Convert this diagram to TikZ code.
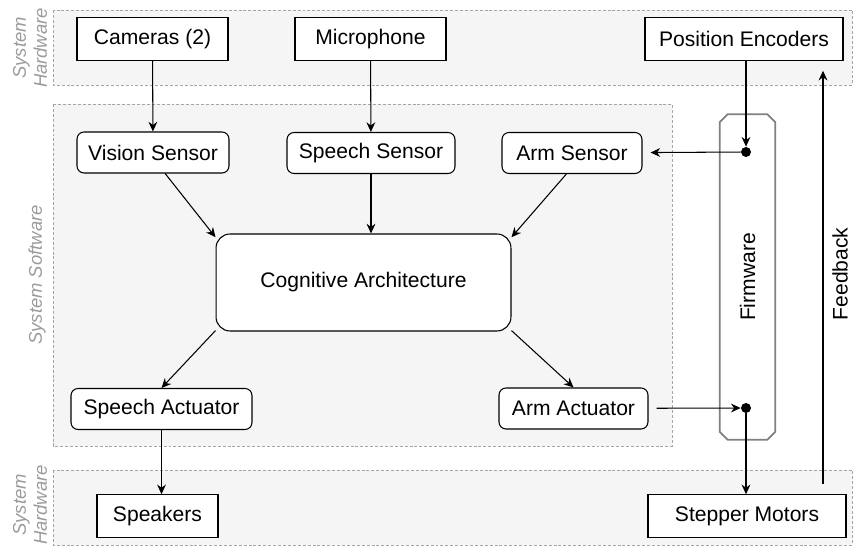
\documentclass[tikz,border=0pt]{standalone}
\usepackage{fontspec}
\setmainfont{Liberation Sans}
\usepackage{tikz}
\usetikzlibrary{positioning, arrows.meta, calc}
\definecolor{bandbg}{RGB}{245,245,245}
\definecolor{bandframe}{RGB}{165,165,165}
\definecolor{zonegray}{RGB}{155,155,155}
\definecolor{fwframe}{RGB}{128,128,128}

\begin{document}
\begin{tikzpicture}[
        x=0.02cm, y=-0.02cm,
        font=\fontsize{12}{14}\selectfont,
        band/.style={draw=bandframe, fill=bandbg, dash pattern=on 1.7pt off 1.1pt, line width=0.5pt},
        hwbox/.style={draw, rectangle, fill=white, minimum height=0.85cm, inner sep=0pt, line width=0.6pt},
        swbox/.style={hwbox, rounded corners=4pt, minimum height=0.82cm},
        zone/.style={text=zonegray, font=\fontsize{10.5}{12}\selectfont\itshape, rotate=90, align=center},
        dot/.style={circle, fill=black, inner sep=0pt, minimum size=0.2cm},
        firm/.style={rectangle, fill=white, minimum width=1.1cm, minimum height=6.5cm, inner sep=0pt},
        fwline/.style={draw=fwframe, line width=1pt},
        arr/.style={-{Stealth[length=5.5pt, width=5pt, inset=1.8pt]}, line width=0.6pt}
    ]
    \useasboundingbox (0,0) rectangle (856,546);

    % zones
    \path[band] (53,10) rectangle (852,85);
    \path[band] (53,104) rectangle (672,446);
    \path[band] (53,470) rectangle (852,545);
    \node[zone] (hwtop) at (30,48) {System\\Hardware};
    \node[zone] (sw) at (37,275) {System Software};
    \node[zone] (hwbot) at (30,505) {System\\Hardware};

    \node[hwbox, minimum width=3.02cm] (cameras) at (152.5,39) {Cameras (2)};
    \node[hwbox, minimum width=3.02cm] (mic) at (370.5,39) {Microphone};
    \node[hwbox, minimum width=3.96cm] (encoders) at (744,39) {Position Encoders};
    \node[swbox, minimum width=3.04cm] (vision) at (153,152.5) {Vision Sensor};
    \node[swbox, minimum width=3.36cm] (speechsens) at (371,153) {Speech Sensor};
    \node[swbox, minimum width=2.8cm] (armsens) at (572,153) {Arm Sensor};
    \node[swbox, rounded corners=8pt, minimum width=5.9cm, minimum height=1.94cm] (cog) at (363.5,282.5) {Cognitive Architecture};
    \node[swbox, minimum width=3.62cm] (speechact) at (161.5,409) {Speech Actuator};
    \node[swbox, minimum width=2.98cm] (armact) at (573.5,408.5) {Arm Actuator};
    \node[hwbox, minimum width=2.42cm] (speakers) at (157.5,516) {Speakers};
    \node[hwbox, minimum width=3.96cm] (stepper) at (747,516) {Stepper Motors};

    % firmware strip with cut corners
    \node[firm] (firmware) at (747.5,277) {\rotatebox{90}{Firmware}};
    \draw[fwline] ($(firmware.north west)+(0,8)$) -- ($(firmware.north west)+(8,0)$)
        -- ($(firmware.north east)+(-8,0)$) -- ($(firmware.north east)+(0,8)$)
        -- ($(firmware.south east)+(0,-8)$) -- ($(firmware.south east)+(-8,0)$)
        -- ($(firmware.south west)+(8,0)$) -- ($(firmware.south west)+(0,-8)$) -- cycle;
    \node[dot] (fwin) at (746,152) {};
    \node[dot] (fwout) at (746,408) {};
    \node[rotate=90] (feedback) at (840,274) {Feedback};
    \coordinate (fbline) at (823,0);

    \draw[arr] (cameras) -- (vision);
    \draw[arr] (mic) -- (speechsens);
    \draw[arr] (encoders.south -| fwin) -- (fwin);
    \draw[arr, shorten >=0.16cm] (fwin) -- (armsens);
    \draw[arr] (vision.-60) -- (cog.163);
    \draw[arr] (speechsens) -- (speechsens |- cog.north);
    \draw[arr] (armsens.-105) -- (cog.17);
    \draw[arr] (cog.198) -- (speechact.north);
    \draw[arr] (cog.-18) -- (armact.north);
    \draw[arr, shorten <=0.16cm] (armact) -- (fwout);
    \draw[arr] (fwout) -- (fwout |- stepper.north);
    \draw[arr] (speechact) -- (speechact |- speakers.north);
    \draw[arr, shorten <=0.2cm, shorten >=0.2cm] (stepper.north -| fbline) -- (encoders.south -| fbline);

\end{tikzpicture}
\end{document}
